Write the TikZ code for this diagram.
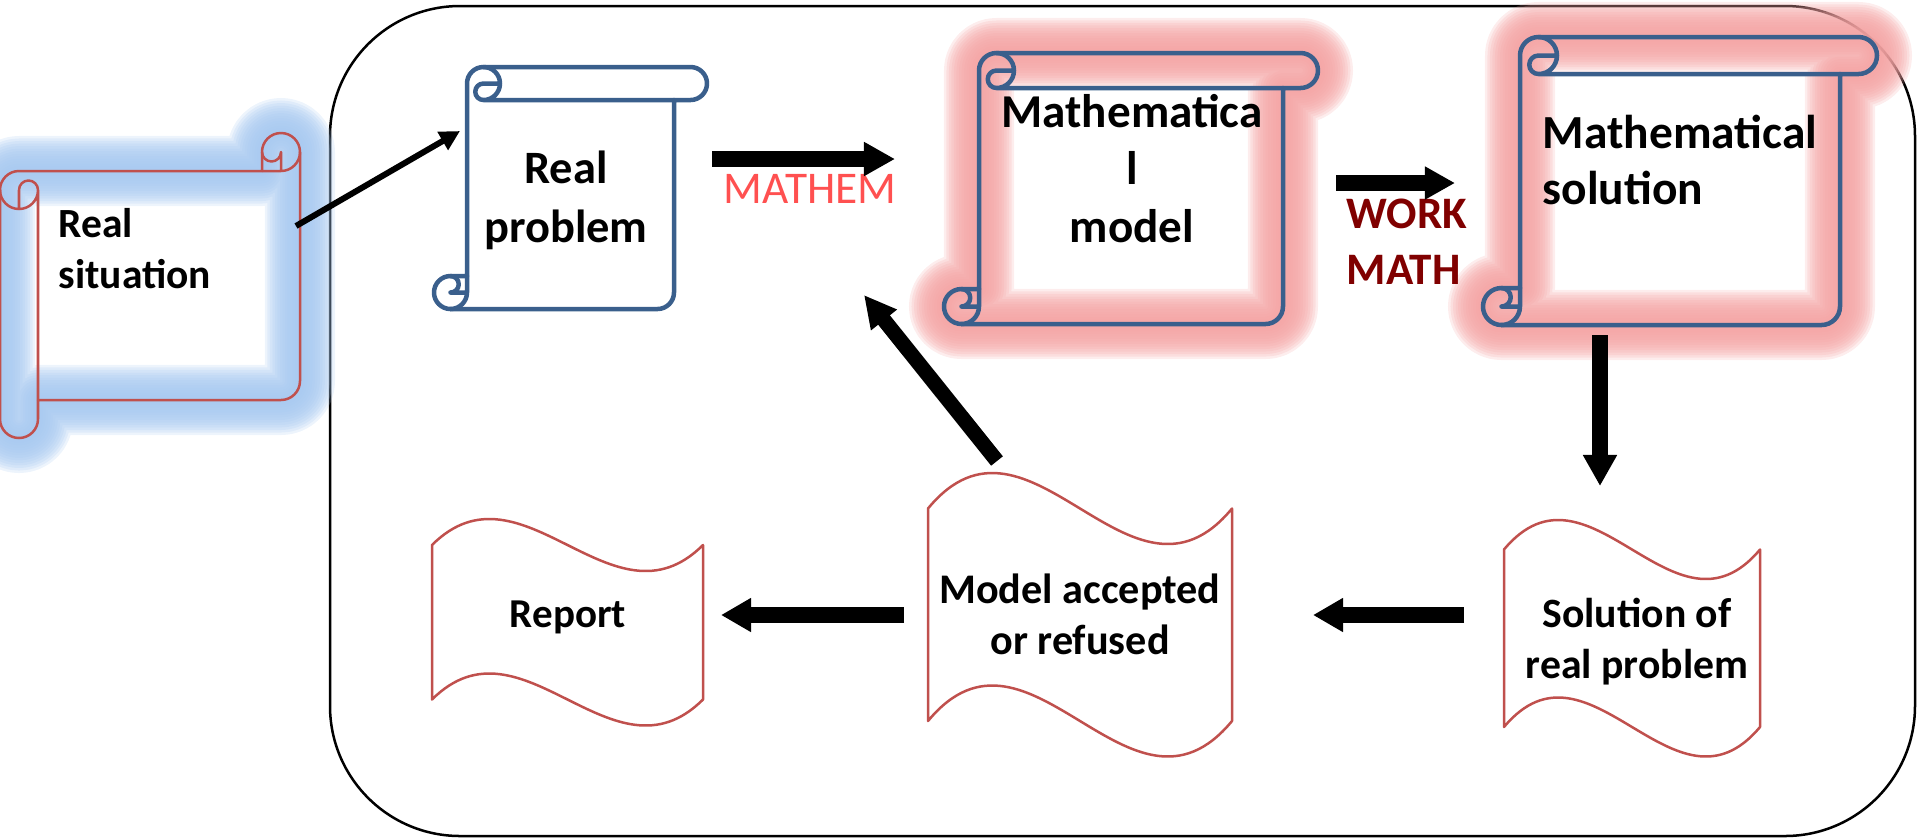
\documentclass[tikz,border=0pt]{standalone}
\usepackage{fontspec}
\setmainfont{Carlito}
\usetikzlibrary{arrows.meta}

\definecolor{scrollblue}{HTML}{3A5F8C}
\definecolor{shapered}{HTML}{C0504D}
\definecolor{glowpink}{HTML}{F4A3A3}
\definecolor{glowblue}{HTML}{A6C8F0}
\definecolor{mathred}{HTML}{FF5050}
\definecolor{workred}{HTML}{800000}

% stacked lines of text, first baseline = node baseline
\newcommand\txtlines[2]{\begin{tabular}[t]{@{}#1@{}}#2\end{tabular}}

% vertical scroll: outline (l t r b roll)
\newcommand\vsout[5]{%
 ({#1+#5},{#4-#5}) -- ({#1+#5},{#2+#5/2}) arc[start angle=180,delta angle=90,radius={#5/2}]
 -- ({#3-#5/2},#2) arc[start angle=270,delta angle=180,radius={#5/2}]
 -- ({#3-#5},{#2+#5}) -- ({#3-#5},{#4-#5/2}) arc[start angle=0,delta angle=90,radius={#5/2}]
 -- ({#1+#5/2},#4) arc[start angle=90,delta angle=180,radius={#5/2}] -- cycle}
% vertical scroll: curls and roll edges
\newcommand\vsin[5]{%
 ({#1+1.5*#5},#2) arc[start angle=270,delta angle=180,radius={#5/2}]
   arc[start angle=90,delta angle=180,radius={#5/4}] -- ({#1+2*#5},{#2+#5/2})
 ({#3-#5},{#2+#5}) -- ({#1+1.5*#5},{#2+#5})
 ({#1+#5/2},{#4-#5}) arc[start angle=270,delta angle=180,radius={#5/4}] -- ({#1+#5},{#4-#5/2})
 ({#1+#5/2},#4) arc[start angle=90,delta angle=-90,radius={#5/2}] -- ({#1+#5},{#4-#5})}

% horizontal scroll: outline (l t r b roll)
\newcommand\hsout[5]{%
 (#1,{#2+1.5*#5}) arc[start angle=180,delta angle=90,radius={#5/2}]
 -- ({#3-#5},{#2+#5}) -- ({#3-#5},{#2+#5/2}) arc[start angle=180,delta angle=180,radius={#5/2}]
 -- (#3,{#4-1.5*#5}) arc[start angle=0,delta angle=90,radius={#5/2}]
 -- ({#1+#5},{#4-#5}) -- ({#1+#5},{#4-#5/2}) arc[start angle=0,delta angle=180,radius={#5/2}] -- cycle}
% horizontal scroll: curls and roll edges
\newcommand\hsin[5]{%
 ({#3-#5},{#2+#5}) -- ({#3-#5/2},{#2+#5}) arc[start angle=90,delta angle=-90,radius={#5/2}]
 ({#3-#5/2},{#2+#5}) -- ({#3-#5/2},{#2+#5/2}) arc[start angle=0,delta angle=180,radius={#5/4}]
 ({#1+#5/2},{#2+2*#5}) -- ({#1+#5/2},{#2+1.5*#5}) arc[start angle=180,delta angle=180,radius={#5/4}]
   arc[start angle=0,delta angle=180,radius={#5/2}]
 ({#1+#5},{#2+1.5*#5}) -- ({#1+#5},{#4-#5})}

% wavy sheet (l r top-centre bottom-centre amplitude)
\newcommand\wavesheet[5]{%
 (#1,#3) .. controls ({#1+(#2-#1)/3},{#3-3.464*#5}) and ({#1+2*(#2-#1)/3},{#3+3.464*#5}) .. (#2,#3)
 -- (#2,#4) .. controls ({#1+2*(#2-#1)/3},{#4+3.464*#5}) and ({#1+(#2-#1)/3},{#4-3.464*#5}) .. (#1,#4) -- cycle}

% soft halo along a closed outline
\newcommand\halo[2]{%
 \foreach \k in {1,...,14}{%
   \pgfmathsetmacro\gw{0.5*\k}%
   \draw[draw=#1, line width=\gw mm, draw opacity=0.2, line join=round] #2;}}

\tikzset{
 frame/.style={draw=black, line width=0.025cm, rounded corners=1.3cm},
 scrollline/.style={draw=scrollblue, line width=0.045cm, line join=round, line cap=round},
 redline/.style={draw=shapered, line width=0.025cm, line join=round},
 blk/.style={draw=black, line width=0.16cm, -{Triangle[length=0.31cm, width=0.32cm]}},
 thinarrow/.style={draw=black, line width=0.06cm, -{Triangle[length=0.2cm, width=0.2cm]}},
 lbl/.style={inner sep=0pt, text=black},
}

\begin{document}
\begin{tikzpicture}[x=0.01cm, y=-0.01cm]
\useasboundingbox (0,0) rectangle (1920,838);
\clip (0,0) rectangle (1920,838);

% outer frame
\draw[frame] (330,6) rectangle (1915,836);

% halos
\halo{glowblue}{\hsout{0}{133}{300}{438}{38}}
\halo{glowpink}{\vsout{944}{53}{1318}{324}{35}}
\halo{glowpink}{\vsout{1483}{37}{1877}{325}{37}}

% scrolls
\draw[redline] \hsout{0}{133}{300}{438}{38};
\draw[redline] \hsin{0}{133}{300}{438}{38};
\draw[scrollline, fill=white] \vsout{434}{67}{707}{309}{33};
\draw[scrollline] \vsin{434}{67}{707}{309}{33};
\draw[scrollline] \vsout{944}{53}{1318}{324}{35};
\draw[scrollline] \vsin{944}{53}{1318}{324}{35};
\draw[scrollline] \vsout{1483}{37}{1877}{325}{37};
\draw[scrollline] \vsin{1483}{37}{1877}{325}{37};

% wavy sheets
\draw[redline, fill=white] \wavesheet{432}{703}{545}{699.5}{26};
\draw[redline, fill=white] \wavesheet{928}{1232}{508.5}{721}{35.5};
\draw[redline, fill=white] \wavesheet{1504}{1760}{549.5}{727}{29.5};

% texts
\node[lbl, anchor=base west, font={\fontsize{11.8}{14.5}\selectfont\bfseries}] (rs) at (58,237)
  {\txtlines{l}{Real\\situation}};
\node[lbl, anchor=base, font={\fontsize{13.2}{16.8}\selectfont\bfseries}] (rp) at (566,183)
  {\txtlines{c}{Real\\problem}};
\node[lbl, anchor=base, font={\fontsize{13.4}{16.36}\selectfont\bfseries}] (mm) at (1132,127)
  {\txtlines{c}{Mathematica\\l\\model}};
\node[lbl, anchor=base west, font={\fontsize{13.5}{16.2}\selectfont\bfseries}] (ms) at (1542,148)
  {\txtlines{l}{Mathematical\\solution}};
\node[lbl, anchor=base, text=mathred, font={\fontsize{12.9}{15}\selectfont}] (mathem) at (810,203)
  {MATHEM};
\node[lbl, anchor=base west, text=workred, font={\fontsize{12.8}{15.93}\selectfont\bfseries}] (work) at (1346,228)
  {\txtlines{l}{WORK\\MATH}};
\node[lbl, anchor=base, font={\fontsize{11.67}{14}\selectfont\bfseries}] (rep) at (568,627)
  {Report};
\node[lbl, anchor=base, font={\fontsize{12}{14.5}\selectfont\bfseries}] (mar) at (1080,603)
  {\txtlines{c}{Model accepted\\or refused}};
\node[lbl, anchor=base, font={\fontsize{11.86}{14.5}\selectfont\bfseries}] (sol) at (1637,627)
  {\txtlines{c}{Solution of\\real problem}};

% connector end points
\coordinate (rs-out) at (296,226);
\coordinate (rp-in) at (460,131);
\coordinate (rp-out) at (712,159);
\coordinate (mm-in) at (895,159);
\coordinate (mm-out) at (1336,183);
\coordinate (ms-in) at (1455,183);
\coordinate (ms-out) at (1600,335);
\coordinate (sol-in) at (1600,486);
\coordinate (sol-out) at (1464,615);
\coordinate (mar-in) at (1313,615);
\coordinate (mar-out) at (904,615);
\coordinate (rep-in) at (721,615);
\coordinate (mar-up) at (997,461);
\coordinate (rp-back) at (864,295);

% connectors
\draw[thinarrow] (rs-out) -- (rp-in);
\draw[blk] (rp-out) -- (mm-in);
\draw[blk, -{Triangle[length=0.30cm, width=0.31cm]}] (mm-out) -- (ms-in);
\draw[blk] (ms-out) -- (sol-in);
\draw[blk, -{Triangle[length=0.30cm, width=0.32cm]}] (sol-out) -- (mar-in);
\draw[blk, -{Triangle[length=0.30cm, width=0.32cm]}] (mar-out) -- (rep-in);
\draw[blk, line width=0.15cm, -{Triangle[length=0.32cm, width=0.31cm]}] (mar-up) -- (rp-back);
\end{tikzpicture}
\end{document}
